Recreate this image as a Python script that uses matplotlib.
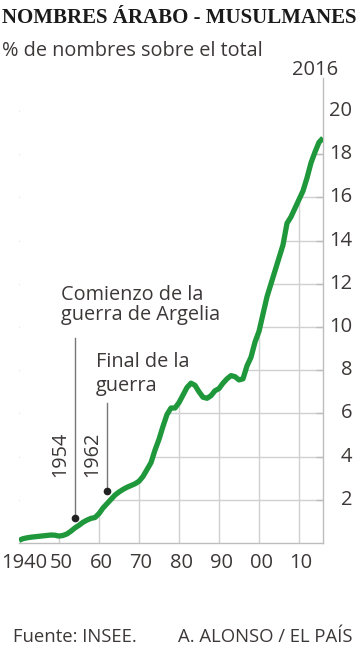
import matplotlib
matplotlib.use("Agg")
import matplotlib.pyplot as plt
import matplotlib.transforms as mtransforms
import numpy as np

# ---- data ----
years = list(range(1940, 2017))
values = [0.12, 0.20, 0.24, 0.27, 0.29, 0.31, 0.33, 0.35, 0.37, 0.36,
          0.32, 0.35, 0.42, 0.55, 0.70, 0.82, 0.96, 1.06, 1.14, 1.18,
          1.36, 1.62, 1.82, 2.02, 2.22, 2.36, 2.48, 2.58, 2.66, 2.74,
          2.86, 3.08, 3.40, 3.72, 4.30, 4.80, 5.40, 5.95, 6.25, 6.25,
          6.50, 6.85, 7.20, 7.40, 7.30, 7.00, 6.75, 6.70, 6.82, 7.05,
          7.15, 7.40, 7.60, 7.75, 7.70, 7.55, 7.60, 8.20, 8.60, 9.30,
          9.80, 10.6, 11.4, 12.0, 12.6, 13.2, 13.8, 14.8, 15.1, 15.5,
          15.9, 16.3, 16.9, 17.6, 18.1, 18.55, 18.75]
x_ticks = [1940, 1950, 1960, 1970, 1980, 1990, 2000, 2010]
x_labels = ["1940", "50", "60", "70", "80", "90", "00", "10"]
y_ticks = [2, 4, 6, 8, 10, 12, 14, 16, 18, 20]
y_labels = ["2", "4", "6", "8", "10", "12", "14", "16", "18", "20"]
events = [1954, 1962]
event_labels = ["1954", "1962"]

title = "NOMBRES ÁRABO - MUSULMANES"
subtitle = "% de nombres sobre el total"
source = "Fuente: INSEE."
credit = "A. ALONSO / EL PAÍS"

# ---- style ----
W, H = 360, 652
GREEN = "#1f973b"
TXT = "#3d3838"
GRID = "#d0d0d0"
FONT = ["Open Sans", "DejaVu Sans"]
plt.rcParams['font.family'] = FONT
WT = "normal"
FS = 14.3

fig = plt.figure(figsize=(W / 100, H / 100), dpi=100)

def fx(px):
    return px / W

def fy(py):
    return 1 - py / H

ax_l, ax_r, ax_b, ax_t = 19, 323, 543, 78
ax = fig.add_axes([fx(ax_l), fy(ax_b), fx(ax_r - ax_l), (ax_b - ax_t) / H])
ymax = (ax_b - ax_t) / 21.6
ax.set_xlim(1940, 2016)
ax.set_ylim(0, ymax)
ax.patch.set_alpha(0)

# grid lines (masked above the curve)
for xt in x_ticks[1:]:
    ax.axvline(xt, color=GRID, lw=1, zorder=1)
for yt in y_ticks:
    ax.axhline(yt, color=GRID, lw=1, zorder=1)
ax.fill_between(years, values, ymax + 1, color="white", zorder=2, lw=0)

ax.plot(years, values, color=GREEN, lw=3.8, zorder=4, solid_capstyle="butt",
        solid_joinstyle="round")

for s in ["top", "left"]:
    ax.spines[s].set_visible(False)
for s in ["bottom", "right"]:
    ax.spines[s].set_color("#bdbdbd")
    ax.spines[s].set_linewidth(1)
    ax.spines[s].set_zorder(3)

ax.set_xticks([])
ax.yaxis.tick_right()
ax.set_yticks(y_ticks)
ax.set_yticklabels([])
ax.tick_params(axis="y", direction="in", length=5, width=1, color="#bdbdbd")

ytrans = mtransforms.blended_transform_factory(fig.transFigure, ax.transData)
for v, lab in zip(y_ticks, y_labels):
    ax.text(fx(352), v, lab, transform=ytrans, ha="right", va="center",
            fontsize=14.5, color=TXT, fontweight=WT)

xtrans = mtransforms.blended_transform_factory(ax.transData, fig.transFigure)
for i, (v, lab) in enumerate(zip(x_ticks, x_labels)):
    off = mtransforms.offset_copy(xtrans, fig=fig, x=(5 if i == 0 else 2), y=0, units="dots")
    ax.text(v, fy(568), lab, transform=off, ha="center", va="baseline",
            fontsize=14.5, color=TXT, fontweight=WT)

# event annotations
ev_top = [9.49, 6.48]
ev_dot = [1.16, 2.41]
for e, t, d in zip(events, ev_top, ev_dot):
    ax.plot([e, e], [d, t], color="#777777", lw=1, zorder=5)
    ax.plot([e], [d], "o", color="#222222", ms=4.5, zorder=6)
for e, lab in zip(events, event_labels):
    off = mtransforms.offset_copy(ax.transData, fig=fig, x=-15, y=0, units="dots")
    ax.text(e, (ax_b - 454) / 21.6, lab, transform=off, rotation=90,
            ha="center", va="center", fontsize=FS, color=TXT, fontweight=WT)

fig.text(fx(61), fy(300), "Comienzo de la", fontsize=FS, color=TXT,
         fontweight=WT, va="baseline")
fig.text(fx(61), fy(320), "guerra de Argelia", fontsize=FS, color=TXT,
         fontweight=WT, va="baseline")
fig.text(fx(96), fy(367), "Final de la", fontsize=FS, color=TXT,
         fontweight=WT, va="baseline")
fig.text(fx(96), fy(391), "guerra", fontsize=FS, color=TXT,
         fontweight=WT, va="baseline")

# titles
fig.text(fx(2), fy(23), title, fontsize=15, fontweight="bold", color="#1a1a1a",
         family=["Liberation Serif", "DejaVu Serif"], va="baseline")
fig.text(fx(2), fy(56), subtitle, fontsize=FS, color=TXT, fontweight=WT,
         va="baseline")
fig.text(fx(338), fy(75), "2016", fontsize=14.5, color=TXT, fontweight=WT,
         va="baseline", ha="right")

fig.text(fx(13), fy(642), source, fontsize=13.3, color=TXT, fontweight=WT,
         va="baseline")
fig.text(fx(353), fy(642), credit, fontsize=13.3, color=TXT, fontweight=WT,
         va="baseline", ha="right")

fig.savefig("out.png", dpi=100)
